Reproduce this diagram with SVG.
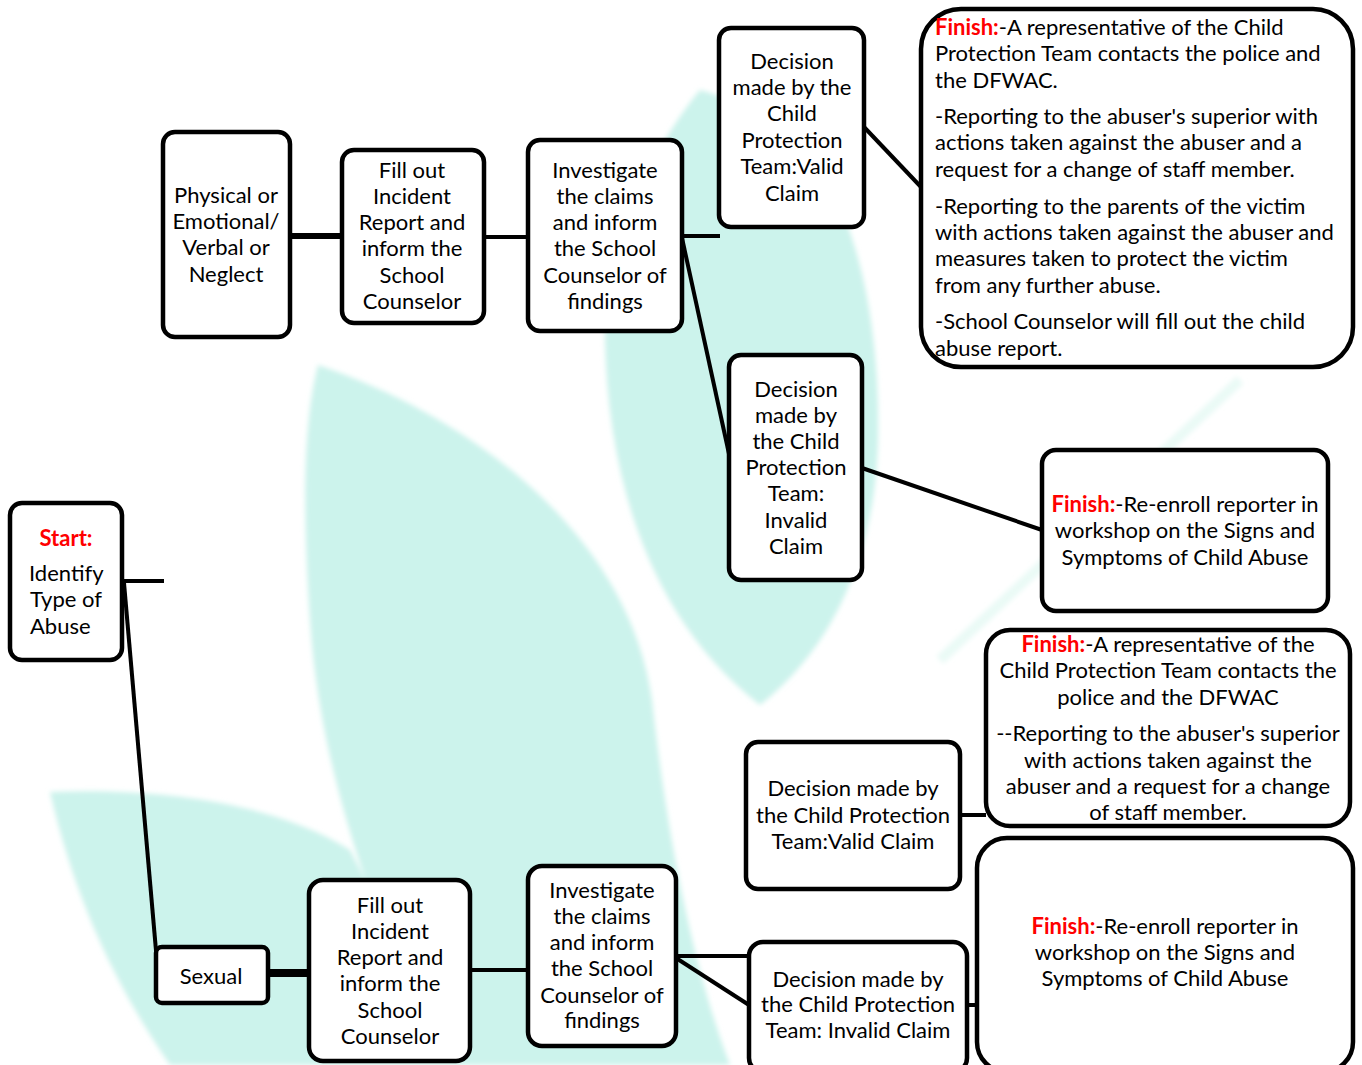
<svg xmlns="http://www.w3.org/2000/svg" width="1362" height="1065" viewBox="0 0 1362 1065">
<style>
.bg{fill:#ccf3ec}
.box{fill:#fff;stroke:#000;stroke-width:4.5}
.c line{stroke:#000;stroke-width:4;stroke-linecap:butt}
text{font-family:Lato,"Liberation Sans",sans-serif;font-size:22px;fill:#000}
.m{text-anchor:middle}
.r{fill:#ff0000;font-weight:bold}
</style>
<defs>
<filter id="soft" x="-5%" y="-5%" width="110%" height="110%"><feGaussianBlur stdDeviation="2.5"/></filter>
</defs>
<rect width="1362" height="1065" fill="#fff"/>
<g id="watermark" filter="url(#soft)">
<path class="bg" d="M318,365 C480,420 630,540 652,700 C665,820 690,960 730,1065 L440,1065 C380,930 320,780 310,620 C302,500 304,420 318,365 Z"/>
<path class="bg" d="M700,90 C650,150 605,250 605,340 C608,480 650,620 760,705 C830,650 875,560 878,440 C880,330 860,230 820,170 C790,130 740,100 700,90 Z"/>
<path class="bg" d="M50,792 C150,788 270,800 350,850 L460,1065 L170,1065 C115,985 75,900 50,792 Z"/>
<path d="M1240,380 L940,660" stroke="#eafaf6" stroke-width="10" fill="none"/>
</g>
<g id="connectors" class="c">
<line x1="122" y1="581" x2="164" y2="581"/>
<line x1="124" y1="583" x2="157" y2="962"/>
<line x1="290" y1="236" x2="342" y2="236" style="stroke-width:6"/>
<line x1="484" y1="237" x2="528" y2="237"/>
<line x1="682" y1="236" x2="720" y2="236"/>
<line x1="682" y1="238" x2="731" y2="463"/>
<line x1="864" y1="127" x2="921" y2="187"/>
<line x1="862" y1="468" x2="1042" y2="530"/>
<line x1="268" y1="973" x2="309" y2="973" style="stroke-width:8"/>
<line x1="470" y1="970" x2="528" y2="970"/>
<line x1="676" y1="956" x2="749" y2="956"/>
<line x1="676" y1="958" x2="749" y2="1005"/>
<line x1="960" y1="815" x2="986" y2="815"/>
<line x1="967" y1="1005" x2="977" y2="1005"/>
</g>
<g id="start">
<rect class="box" x="10" y="503" width="112" height="157" rx="12"/>
<text class="m" x="66" y="546"><tspan class="r">Start:</tspan></text>
<text x="29" y="581">Identify</text>
<text x="30" y="607">Type of</text>
<text x="30" y="634">Abuse</text>
</g>
<g id="physical">
<rect class="box" x="163" y="132" width="127" height="205" rx="12"/>
<text class="m"><tspan x="226" y="203">Physical or</tspan><tspan x="226" y="229">Emotional/</tspan><tspan x="226" y="255">Verbal or</tspan><tspan x="226" y="282">Neglect</tspan></text>
</g>
<g id="fill-top">
<rect class="box" x="342" y="150" width="142" height="173" rx="12"/>
<text class="m"><tspan x="412" y="178">Fill out</tspan><tspan x="412" y="204">Incident</tspan><tspan x="412" y="230">Report and</tspan><tspan x="412" y="256">inform the</tspan><tspan x="412" y="283">School</tspan><tspan x="412" y="309">Counselor</tspan></text>
</g>
<g id="investigate-top">
<rect class="box" x="528" y="140" width="154" height="191" rx="12"/>
<text class="m"><tspan x="605" y="178">Investigate</tspan><tspan x="605" y="204">the claims</tspan><tspan x="605" y="230">and inform</tspan><tspan x="605" y="256">the School</tspan><tspan x="605" y="283">Counselor of</tspan><tspan x="605" y="309">findings</tspan></text>
</g>
<g id="decision-valid-top">
<rect class="box" x="719" y="28" width="145" height="199" rx="12"/>
<text class="m"><tspan x="792" y="69">Decision</tspan><tspan x="792" y="95">made by the</tspan><tspan x="792" y="121">Child</tspan><tspan x="792" y="148">Protection</tspan><tspan x="792" y="174">Team:Valid</tspan><tspan x="792" y="201">Claim</tspan></text>
</g>
<g id="finish-valid-top">
<rect class="box" x="921" y="9" width="432" height="358" rx="40"/>
<text><tspan x="935" y="35"><tspan class="r">Finish:</tspan>-A representative of the Child</tspan><tspan x="935" y="61">Protection Team contacts the police and</tspan><tspan x="935" y="88">the DFWAC.</tspan><tspan x="935" y="124">-Reporting to the abuser's superior with</tspan><tspan x="935" y="150">actions taken against the abuser and a</tspan><tspan x="935" y="177">request for a change of staff member.</tspan><tspan x="935" y="214">-Reporting to the parents of the victim</tspan><tspan x="935" y="240">with actions taken against the abuser and</tspan><tspan x="935" y="266">measures taken to protect the victim</tspan><tspan x="935" y="293">from any further abuse.</tspan><tspan x="935" y="329">-School Counselor will fill out the child</tspan><tspan x="935" y="356">abuse report.</tspan></text>
</g>
<g id="decision-invalid-top">
<rect class="box" x="729" y="355" width="133" height="225" rx="12"/>
<text class="m"><tspan x="796" y="397">Decision</tspan><tspan x="796" y="423">made by</tspan><tspan x="796" y="449">the Child</tspan><tspan x="796" y="475">Protection</tspan><tspan x="796" y="501">Team:</tspan><tspan x="796" y="528">Invalid</tspan><tspan x="796" y="554">Claim</tspan></text>
</g>
<g id="finish-invalid-top">
<rect class="box" x="1042" y="450" width="286" height="161" rx="14"/>
<text class="m"><tspan x="1185" y="512"><tspan class="r">Finish:</tspan>-Re-enroll reporter in</tspan><tspan x="1185" y="538">workshop on the Signs and</tspan><tspan x="1185" y="565">Symptoms of Child Abuse</tspan></text>
</g>
<g id="sexual">
<rect class="box" x="156" y="947" width="112" height="56" rx="6"/>
<text class="m" x="211" y="984">Sexual</text>
</g>
<g id="fill-bottom">
<rect class="box" x="309" y="880" width="161" height="181" rx="14"/>
<text class="m"><tspan x="390" y="913">Fill out</tspan><tspan x="390" y="939">Incident</tspan><tspan x="390" y="965">Report and</tspan><tspan x="390" y="991">inform the</tspan><tspan x="390" y="1018">School</tspan><tspan x="390" y="1044">Counselor</tspan></text>
</g>
<g id="investigate-bottom">
<rect class="box" x="528" y="866" width="148" height="180" rx="14"/>
<text class="m"><tspan x="602" y="898">Investigate</tspan><tspan x="602" y="924">the claims</tspan><tspan x="602" y="950">and inform</tspan><tspan x="602" y="976">the School</tspan><tspan x="602" y="1003">Counselor of</tspan><tspan x="602" y="1028">findings</tspan></text>
</g>
<g id="decision-valid-bottom">
<rect class="box" x="746" y="742" width="214" height="147" rx="12"/>
<text class="m"><tspan x="853" y="796">Decision made by</tspan><tspan x="853" y="823">the Child Protection</tspan><tspan x="853" y="849">Team:Valid Claim</tspan></text>
</g>
<g id="finish-valid-bottom">
<rect class="box" x="986" y="630" width="364" height="196" rx="24"/>
<text class="m"><tspan x="1168" y="652"><tspan class="r">Finish:</tspan>-A representative of the</tspan><tspan x="1168" y="678">Child Protection Team contacts the</tspan><tspan x="1168" y="705">police and the DFWAC</tspan><tspan x="1168" y="741">--Reporting to the abuser's superior</tspan><tspan x="1168" y="768">with actions taken against the</tspan><tspan x="1168" y="794">abuser and a request for a change</tspan><tspan x="1168" y="820">of staff member.</tspan></text>
</g>
<g id="decision-invalid-bottom">
<rect class="box" x="749" y="942" width="218" height="130" rx="14"/>
<text class="m"><tspan x="858" y="987">Decision made by</tspan><tspan x="858" y="1012">the Child Protection</tspan><tspan x="858" y="1038">Team: Invalid Claim</tspan></text>
</g>
<g id="finish-invalid-bottom">
<rect class="box" x="977" y="838" width="376" height="234" rx="30"/>
<text class="m"><tspan x="1165" y="934"><tspan class="r">Finish:</tspan>-Re-enroll reporter in</tspan><tspan x="1165" y="960">workshop on the Signs and</tspan><tspan x="1165" y="986">Symptoms of Child Abuse</tspan></text>
</g>
</svg>
